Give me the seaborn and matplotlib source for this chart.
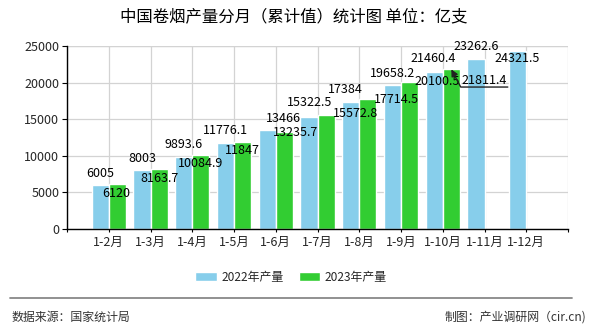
import matplotlib
matplotlib.use('Agg')
import matplotlib.pyplot as plt
from matplotlib.lines import Line2D
import seaborn as sns
import pandas as pd

# ---- data ----
categories = ['1-2月', '1-3月', '1-4月', '1-5月', '1-6月', '1-7月', '1-8月',
              '1-9月', '1-10月', '1-11月', '1-12月']
values_2022 = [6005, 8003, 9893.6, 11776.1, 13466, 15322.5, 17384, 19658.2,
               21460.4, 23262.6, 24321.5]
values_2023 = [6120, 8163.7, 10084.9, 11847, 13235.7, 15572.8, 17714.5,
               20100.5, 21811.4]
series_names = ['2022年产量', '2023年产量']
yticks = [0, 5000, 10000, 15000, 20000, 25000]
title = '中国卷烟产量分月（累计值）统计图 单位：亿支'
source_text = '数据来源：国家统计局'
credit_text = '制图：产业调研网（cir.cn)'

# ---- label layout (pixel offsets of value labels from bar tops) ----
offsets_2022 = [(0, 11.5), (0, 12.4), (0, 12), (0, 12.3), (16, 12), (1, 14),
                (-5, 12.7), (0, 12), (-1, 13), (0, 12.7), (-1, -8)]
offsets_2023 = [(-1.5, -9), (0, -9), (0, -8.3), (0, -8.2), (11.5, 0), (29, 2),
                (28.5, 0), (28, 0.5), (32.5, -11)]

colors = ['#87CEEB', '#32CD32']
num_size = 9.0

rows = []
for c, v in zip(categories, values_2022):
    rows.append({'cat': c, 'series': series_names[0], 'val': v})
for c, v in zip(categories, values_2023):
    rows.append({'cat': c, 'series': series_names[1], 'val': v})
df = pd.DataFrame(rows)

sns.set_style('white')
plt.rcParams['font.family'] = ['Noto Sans CJK SC', 'DejaVu Sans']

W, H = 590, 330
fig = plt.figure(figsize=(W / 100, H / 100), dpi=100)
ax = fig.add_axes([67 / W, 1 - 229 / H, (568 - 67) / W, (229 - 46) / H])

sns.barplot(data=df, x='cat', y='val', hue='series', order=categories,
            hue_order=series_names, palette=colors, width=0.82, dodge=True,
            saturation=1, ax=ax, legend=True, errorbar=None)

ax.set_xlim(-1, len(categories))
ax.set_ylim(yticks[0], yticks[-1])
ax.set_yticks(yticks)
ax.set_yticklabels([str(t) for t in yticks])
xt = list(range(-1, len(categories) + 1))
ax.set_xticks(xt)
ax.set_xticklabels([''] + categories + [''])
ax.set_xlabel('')
ax.set_ylabel('')

ax.grid(True, color='#d3d3d3', linewidth=0.9)
ax.set_axisbelow(True)
for s in ['top', 'right']:
    ax.spines[s].set_visible(False)
for s in ['left', 'bottom']:
    ax.spines[s].set_color('black')
    ax.spines[s].set_linewidth(1)
ax.tick_params(axis='y', length=3.6, width=0.8, pad=2.0, labelsize=num_size,
               color='black', left=True)
ax.tick_params(axis='x', length=2.2, width=0.8, pad=2.8, labelsize=num_size,
               color='black', bottom=True)
ax.axhline(yticks[-1], color='#d3d3d3', linewidth=0.9, zorder=0)

# ---- value labels ----
cont_2022, cont_2023 = ax.containers[0], ax.containers[1]
bars_2023 = [b for b in cont_2023 if b.get_height() == b.get_height() and b.get_height() > 0]
for bar, v, (dx, dy) in zip(cont_2022, values_2022, offsets_2022):
    xc = bar.get_x() + bar.get_width() / 2
    ax.annotate(f'{v:g}', xy=(xc, bar.get_height()), xytext=(dx, dy),
                textcoords='offset pixels', ha='center', va='center',
                fontsize=num_size, color='black', zorder=5)
for i, (bar, v, (dx, dy)) in enumerate(zip(bars_2023, values_2023, offsets_2023)):
    xc = bar.get_x() + bar.get_width() / 2
    ax.annotate(f'{v:g}', xy=(xc, bar.get_height()), xytext=(dx, dy),
                textcoords='offset pixels', ha='center', va='center',
                fontsize=num_size, color='black', zorder=5)
    if i == len(values_2023) - 1:
        ax.annotate('', xy=(xc, bar.get_height()), xytext=(56.5, -17.7),
                    textcoords='offset pixels',
                    arrowprops=dict(arrowstyle='-|>', color='#222222', lw=1,
                                    connectionstyle='angle,angleA=0,angleB=118,rad=0',
                                    shrinkA=0, shrinkB=0, mutation_scale=10),
                    zorder=6)

# ---- legend ----
handles, labels = ax.get_legend_handles_labels()
ax.legend_.remove()
fig.legend(handles, labels, loc='center', bbox_to_anchor=(291 / W, 1 - 277 / H),
           ncol=2, frameon=False, fontsize=8.6, handlelength=1.8,
           handleheight=0.75, handletextpad=0.35, columnspacing=1.3)

# ---- title & footer ----
fig.text(294 / W, 1 - 17 / H, title, ha='center', va='center', fontsize=11.8,
         color='black')
fig.add_artist(Line2D([10 / W, 572 / W], [1 - 298 / H, 1 - 298 / H],
                      color='#888888', linewidth=1.3))
fig.text(12 / W, 1 - 317 / H, source_text, ha='left', va='center',
         fontsize=8.6, color='#333333')
fig.text(586 / W, 1 - 317 / H, credit_text, ha='right', va='center',
         fontsize=8.6, color='#333333')

fig.savefig('out.png', dpi=100)
